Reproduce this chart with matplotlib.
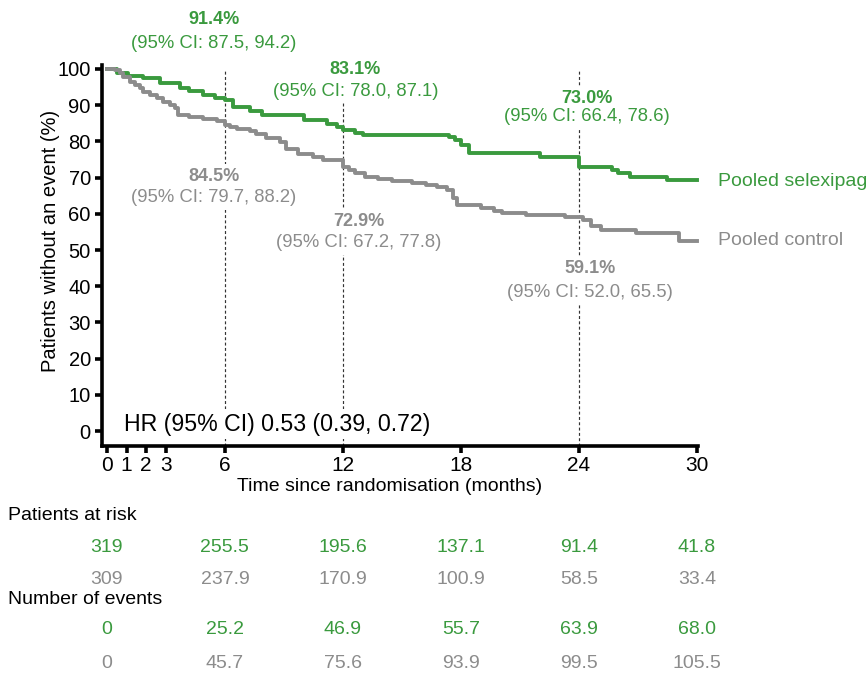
import matplotlib
matplotlib.use('Agg')
import matplotlib.pyplot as plt
import matplotlib.transforms as mtransforms

plt.rcParams['font.family'] = ['Liberation Sans', 'DejaVu Sans']

GREEN = '#3a9a3e'
GREY = '#8c8c8c'

# Kaplan-Meier step curves (months, % without event)
sel_t = [0, 0.5, 1.07, 1.83, 2.7, 3.7, 4.2, 4.9, 5.5, 6.0, 6.4, 7.3, 7.9, 10.0,
         11.2, 11.7, 12.0, 12.6, 13.0, 17.4, 17.7, 18.0, 18.4, 22.0, 24.0, 25.7,
         26.0, 26.6, 28.5, 30.0]
sel_v = [100, 99.0, 98.0, 97.5, 96.0, 94.7, 94.0, 92.8, 92.0, 91.4, 89.5, 88.4,
         87.3, 86.0, 84.8, 84.0, 83.1, 82.4, 81.8, 81.2, 80.4, 79.0, 76.8, 75.6,
         73.0, 72.1, 71.3, 70.2, 69.4, 69.4]

ctl_t = [0, 0.4, 0.66, 0.81, 1.17, 1.42, 1.68, 1.83, 2.19, 2.54, 2.85, 3.2, 3.46,
         3.6, 4.2, 4.9, 5.6, 6.0, 6.25, 6.6, 7.3, 7.6, 8.1, 8.8, 9.1, 9.7, 10.5,
         11.0, 12.0, 12.3, 12.6, 13.1, 13.8, 14.5, 15.5, 16.2, 16.8, 17.3, 17.6,
         17.8, 19.0, 19.7, 20.1, 21.3, 23.3, 24.2, 24.6, 25.1, 26.9, 29.1, 30.0]
ctl_v = [100, 99.7, 98.8, 97.9, 96.5, 95.6, 94.7, 93.7, 92.8, 92.0, 91.0, 90.0,
         89.2, 87.3, 86.8, 86.2, 85.6, 84.5, 84.0, 83.5, 82.8, 82.0, 81.0, 79.8,
         77.8, 76.6, 75.8, 75.0, 72.9, 72.1, 71.3, 70.2, 69.6, 69.0, 68.5, 68.0,
         67.4, 66.6, 64.4, 62.4, 61.6, 60.8, 60.2, 59.6, 59.1, 58.3, 56.6, 55.5,
         54.7, 52.5, 52.5]

# landmark estimates
marks = [6, 12, 24]
sel_est = ['91.4%', '83.1%', '73.0%']
sel_ci = ['(95% CI: 87.5, 94.2)', '(95% CI: 78.0, 87.1)', '(95% CI: 66.4, 78.6)']
ctl_est = ['84.5%', '72.9%', '59.1%']
ctl_ci = ['(95% CI: 79.7, 88.2)', '(95% CI: 67.2, 77.8)', '(95% CI: 52.0, 65.5)']

# risk table
table_t = [0, 6, 12, 18, 24, 30]
sel_risk = ['319', '255.5', '195.6', '137.1', '91.4', '41.8']
ctl_risk = ['309', '237.9', '170.9', '100.9', '58.5', '33.4']
sel_events = ['0', '25.2', '46.9', '55.7', '63.9', '68.0']
ctl_events = ['0', '45.7', '75.6', '93.9', '99.5', '105.5']

xticks = [0, 1, 2, 3, 6, 12, 18, 24, 30]

fig = plt.figure(figsize=(8.67, 6.84), dpi=100)
ax = fig.add_axes([0.1176, 0.348, 0.6874, 0.557])

ax.step(sel_t, sel_v, where='post', color=GREEN, lw=2.8, zorder=3, clip_on=False)
ax.step(ctl_t, ctl_v, where='post', color=GREY, lw=2.8, zorder=3, clip_on=False)

for m in marks:
    ax.vlines(m, -4.1, 100, colors='#333333', lw=0.85, linestyles=(0, (2.5, 2)), zorder=1)

ax.set_xlim(-0.25, 30.05)
ax.set_ylim(-4.1, 101.1)
ax.set_xticks(xticks)
ax.set_yticks(range(0, 101, 10))
for s in ['top', 'right']:
    ax.spines[s].set_visible(False)
for s in ['left', 'bottom']:
    ax.spines[s].set_linewidth(2.6)
ax.tick_params(axis='both', direction='out', length=5, width=2.6, pad=3)
ax.tick_params(axis='x', labelsize=15, pad=2)
ax.tick_params(axis='y', labelsize=14.5)

ax.set_xlabel('Time since randomisation (months)', fontsize=14)
ax.xaxis.set_label_coords(0.483, -0.084)
ax.set_ylabel('Patients without an event (%)', fontsize=14.5)
ax.yaxis.set_label_coords(-0.07, 0.538)

box = dict(facecolor='white', edgecolor='none', pad=2.5)

# landmark labels
sel_pos = [(5.45, 113.6, 107.0), (12.63, 99.9, 93.8), (24.4, 91.9, 86.9)]
ctl_pos = [(5.45, 70.4, 64.4), (12.79, 58.0, 52.0), (24.55, 44.8, 38.2)]
for (x, y1, y2), e, c in zip(sel_pos, sel_est, sel_ci):
    ax.text(x, y1, e, color=GREEN, fontsize=13, fontweight='bold', ha='center',
            va='center', bbox=box, zorder=2, clip_on=False)
    ax.text(x, y2, c, color=GREEN, fontsize=13.3, ha='center', va='center',
            bbox=box, zorder=2, clip_on=False)
for (x, y1, y2), e, c in zip(ctl_pos, ctl_est, ctl_ci):
    ax.text(x, y1, e, color=GREY, fontsize=13, fontweight='bold', ha='center',
            va='center', bbox=box, zorder=2)
    ax.text(x, y2, c, color=GREY, fontsize=13.3, ha='center', va='center',
            bbox=box, zorder=2)

ax.text(0.87, 1.9, 'HR (95% CI) 0.53 (0.39, 0.72)', fontsize=16.7, ha='left',
        va='center', color='black', bbox=box, zorder=2)

ax.text(31.07, sel_v[-1] - 0.4, 'Pooled selexipag', color=GREEN, fontsize=14,
        ha='left', va='center', clip_on=False)
ax.text(31.07, ctl_v[-1], 'Pooled control', color=GREY, fontsize=14,
        ha='left', va='center', clip_on=False)

# risk table under the plot
H = 684.0
fig.text(8 / 867, 1 - 516 / H, 'Patients at risk', fontsize=14, va='center')
fig.text(8 / 867, 1 - 600 / H, 'Number of events', fontsize=14, va='center')
trans = mtransforms.blended_transform_factory(ax.transData, fig.transFigure)
rows = [(sel_risk, GREEN, 547), (ctl_risk, GREY, 580),
        (sel_events, GREEN, 630), (ctl_events, GREY, 664)]
for vals, col, py in rows:
    for t, v in zip(table_t, vals):
        fig.text(t, 1 - py / H, v, transform=trans, color=col, fontsize=14,
                 ha='center', va='center')

fig.savefig('out.png', dpi=100)
